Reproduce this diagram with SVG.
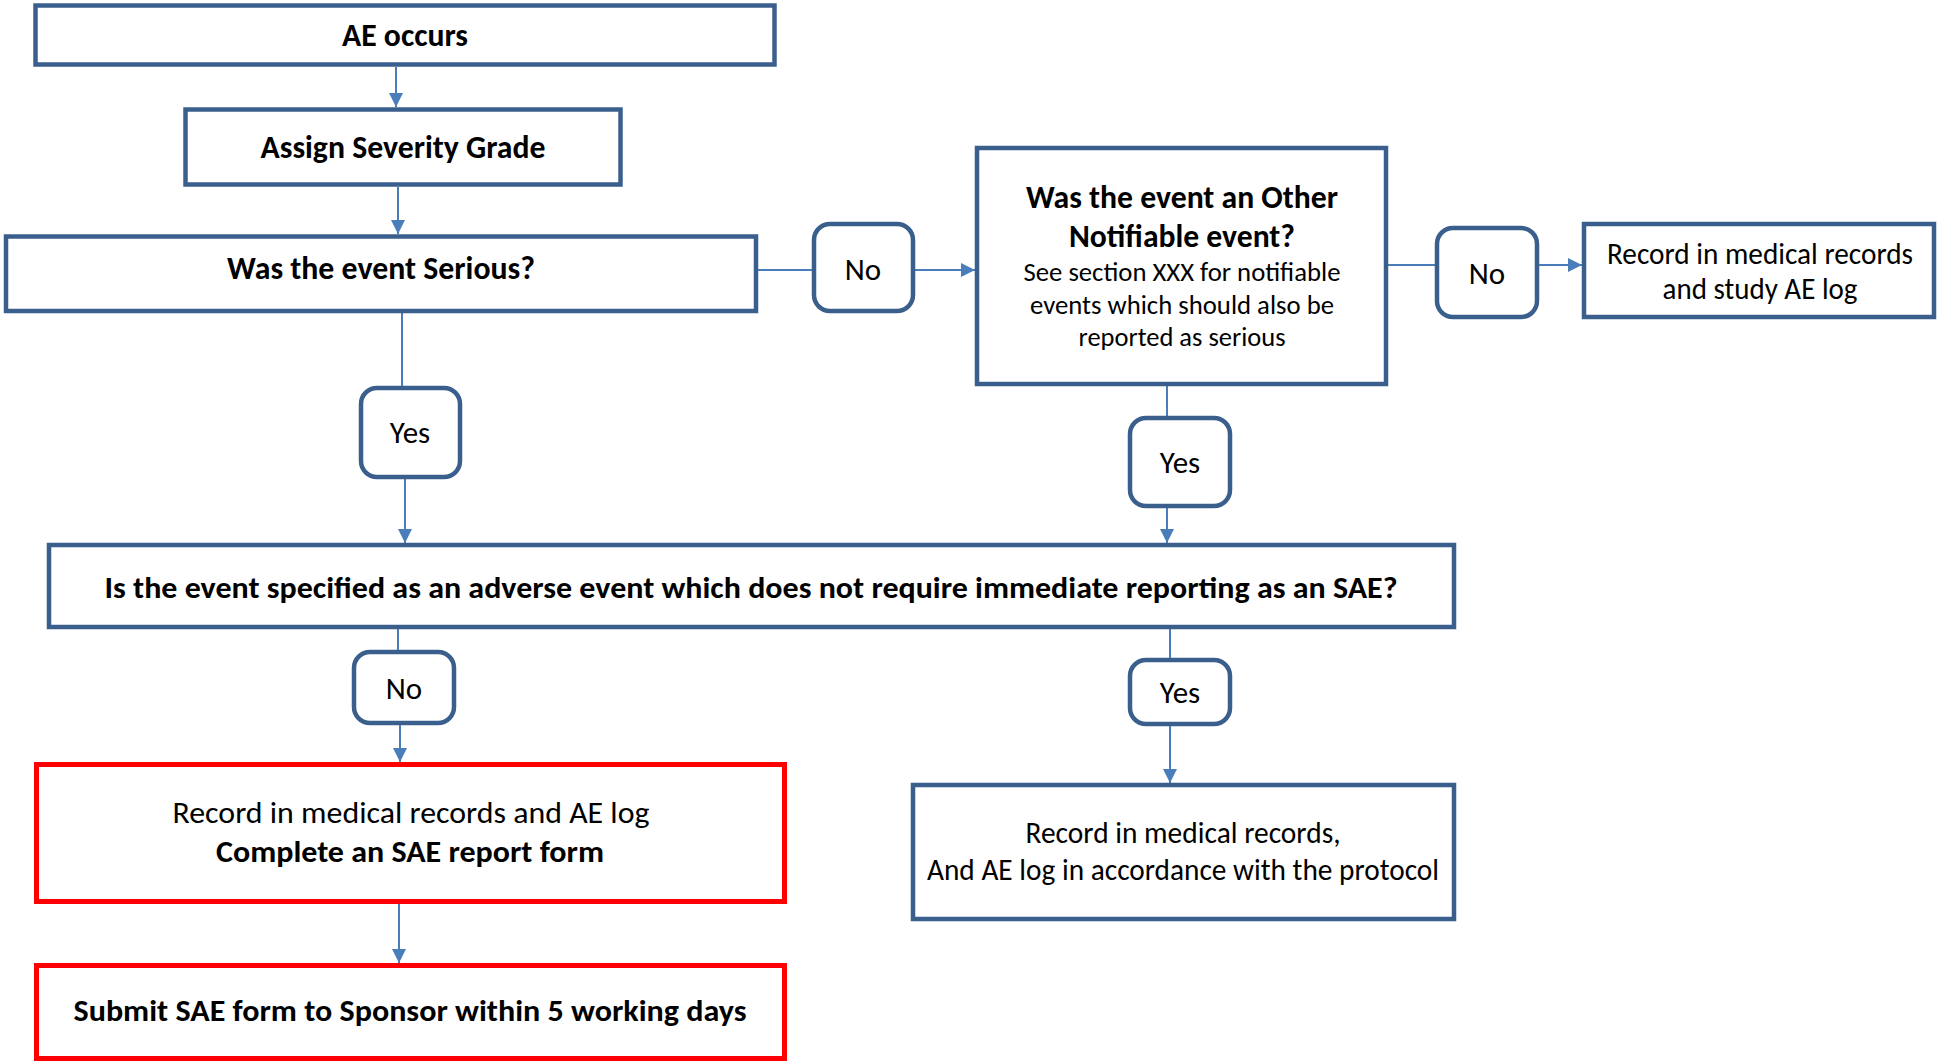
<svg xmlns="http://www.w3.org/2000/svg" width="1937" height="1061" viewBox="0 0 1937 1061">
<style>
.box{fill:#fff;stroke:#3B5F8D;stroke-width:4.5}
.red{fill:#fff;stroke:#FF0000;stroke-width:5}
.lbl{fill:#fff;stroke:#3B5F8D;stroke-width:4.5}
.c{fill:none;stroke:#4A7EBB;stroke-width:2}
text{font-family:Carlito,Lato,"Open Sans",sans-serif;fill:#000;text-anchor:middle}
.b{font-weight:bold}
.t29{font-size:32.5px}
.t26{font-size:30px}
.t24{font-size:27px}
.yn{font-size:31px}
</style>
<defs>
<marker id="ah" markerUnits="userSpaceOnUse" markerWidth="15" markerHeight="15" refX="14" refY="7" orient="auto">
<path d="M0,0 L14,7 L0,14 z" fill="#4A7EBB"/>
</marker>
</defs>
<g id="connectors">
<line class="c" x1="396" y1="67" x2="396" y2="107" marker-end="url(#ah)"/>
<line class="c" x1="398" y1="187" x2="398" y2="234" marker-end="url(#ah)"/>
<line class="c" x1="402" y1="313" x2="402" y2="387"/>
<line class="c" x1="405" y1="479" x2="405" y2="543" marker-end="url(#ah)"/>
<line class="c" x1="758" y1="270" x2="812" y2="270"/>
<line class="c" x1="915" y1="270" x2="975" y2="270" marker-end="url(#ah)"/>
<line class="c" x1="1388" y1="265" x2="1436" y2="265"/>
<line class="c" x1="1539" y1="265" x2="1582" y2="265" marker-end="url(#ah)"/>
<line class="c" x1="1167" y1="386" x2="1167" y2="417"/>
<line class="c" x1="1167" y1="508" x2="1167" y2="543" marker-end="url(#ah)"/>
<line class="c" x1="398" y1="629" x2="398" y2="651"/>
<line class="c" x1="400" y1="725" x2="400" y2="762" marker-end="url(#ah)"/>
<line class="c" x1="399" y1="904" x2="399" y2="963" marker-end="url(#ah)"/>
<line class="c" x1="1170" y1="629" x2="1170" y2="659"/>
<line class="c" x1="1170" y1="726" x2="1170" y2="783" marker-end="url(#ah)"/>
</g>
<g id="ae-occurs">
<rect class="box" x="35.5" y="5.5" width="739" height="59"/>
<text class="b t29" x="405" y="46" textLength="126" lengthAdjust="spacingAndGlyphs">AE occurs</text>
</g>
<g id="assign-severity">
<rect class="box" x="185.5" y="109.5" width="435" height="75"/>
<text class="b t29" x="403" y="158" textLength="285" lengthAdjust="spacingAndGlyphs">Assign Severity Grade</text>
</g>
<g id="serious">
<rect class="box" x="6" y="236.5" width="750" height="74.5"/>
<text class="b t29" x="381" y="279" textLength="308" lengthAdjust="spacingAndGlyphs">Was the event Serious?</text>
</g>
<g id="no-1">
<rect class="lbl" x="814" y="224" width="99" height="87" rx="16"/>
<text class="yn" x="863" y="280">No</text>
</g>
<g id="other-notifiable">
<rect class="box" x="977" y="148" width="409" height="236"/>
<text class="b t29" x="1182" y="208" textLength="312" lengthAdjust="spacingAndGlyphs">Was the event an Other</text>
<text class="b t29" x="1182" y="247" textLength="226" lengthAdjust="spacingAndGlyphs">Notifiable event?</text>
<text class="t24" x="1182" y="281" textLength="317" lengthAdjust="spacingAndGlyphs">See section XXX for notifiable</text>
<text class="t24" x="1182" y="314" textLength="304" lengthAdjust="spacingAndGlyphs">events which should also be</text>
<text class="t24" x="1182" y="346" textLength="207" lengthAdjust="spacingAndGlyphs">reported as serious</text>
</g>
<g id="no-2">
<rect class="lbl" x="1437" y="228" width="100" height="89" rx="16"/>
<text class="yn" x="1487" y="284">No</text>
</g>
<g id="record-study-log">
<rect class="box" x="1584" y="224" width="350" height="93"/>
<text class="t26" x="1760" y="264" textLength="306" lengthAdjust="spacingAndGlyphs">Record in medical records</text>
<text class="t26" x="1760" y="299" textLength="195" lengthAdjust="spacingAndGlyphs">and study AE log</text>
</g>
<g id="yes-1">
<rect class="lbl" x="361" y="388" width="99" height="89" rx="16"/>
<text class="yn" x="410" y="443">Yes</text>
</g>
<g id="yes-2">
<rect class="lbl" x="1130" y="418" width="100" height="88" rx="16"/>
<text class="yn" x="1180" y="473">Yes</text>
</g>
<g id="not-immediate">
<rect class="box" x="49" y="545" width="1405" height="82"/>
<text class="b t26" x="751" y="598" textLength="1293" lengthAdjust="spacingAndGlyphs">Is the event specified as an adverse event which does not require immediate reporting as an SAE?</text>
</g>
<g id="no-3">
<rect class="lbl" x="354" y="652" width="100" height="71" rx="16"/>
<text class="yn" x="404" y="699">No</text>
</g>
<g id="yes-3">
<rect class="lbl" x="1130" y="660" width="100" height="64" rx="16"/>
<text class="yn" x="1180" y="703">Yes</text>
</g>
<g id="record-protocol">
<rect class="box" x="913" y="785" width="541" height="134"/>
<text class="t26" x="1183" y="843" textLength="315" lengthAdjust="spacingAndGlyphs">Record in medical records,</text>
<text class="t26" x="1183" y="880" textLength="512" lengthAdjust="spacingAndGlyphs">And AE log in accordance with the protocol</text>
</g>
<g id="complete-sae">
<rect class="red" x="36.5" y="764.5" width="748" height="137"/>
<text class="t26" x="411" y="823" textLength="477" lengthAdjust="spacingAndGlyphs">Record in medical records and AE log</text>
<text class="b t26" x="410" y="862" textLength="388" lengthAdjust="spacingAndGlyphs">Complete an SAE report form</text>
</g>
<g id="submit-sae">
<rect class="red" x="36.5" y="965.5" width="748" height="93"/>
<text class="b t26" x="410" y="1021" textLength="673" lengthAdjust="spacingAndGlyphs">Submit SAE form to Sponsor within 5 working days</text>
</g>
</svg>
